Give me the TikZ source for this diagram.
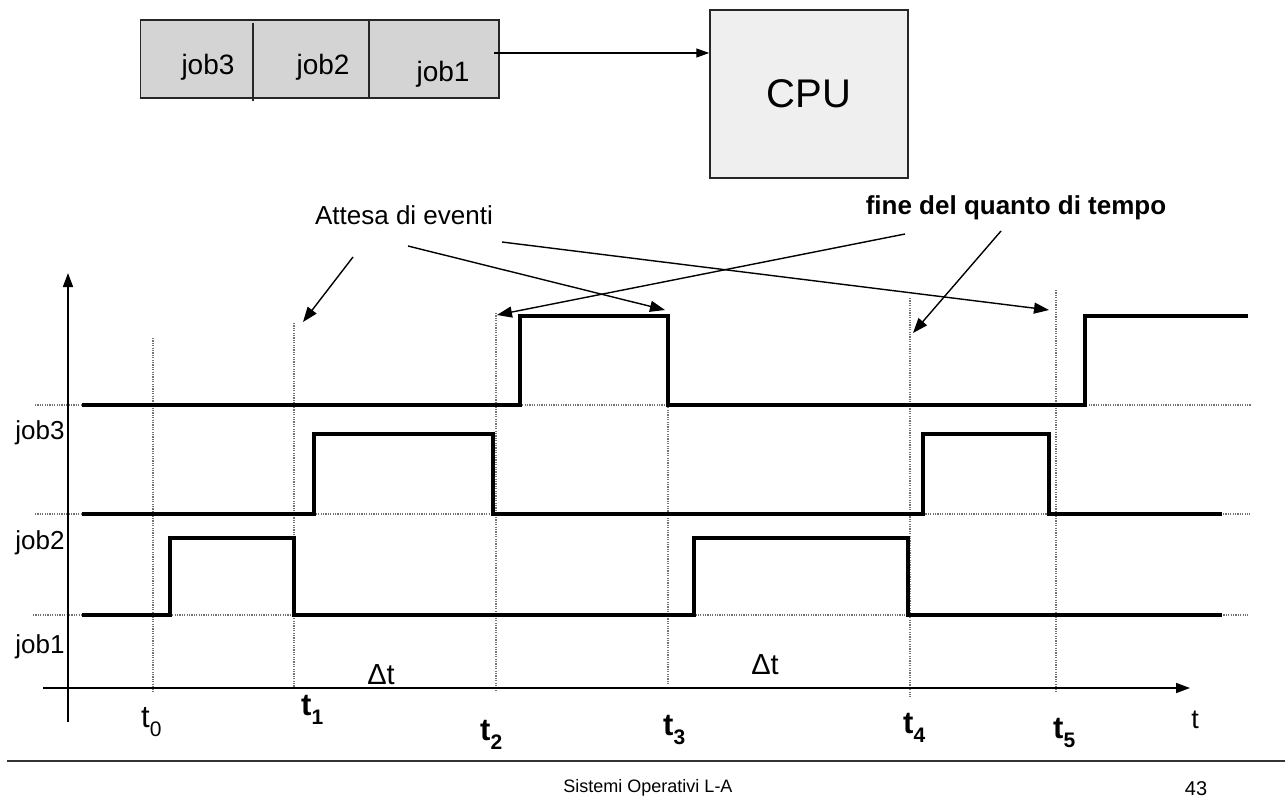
\documentclass[tikz,border=0pt]{standalone}
\usepackage{fontspec}
\setmainfont{Liberation Sans}
\usetikzlibrary{arrows.meta}
\definecolor{qgray}{HTML}{D4D4D4}
\definecolor{cgray}{HTML}{EFEFEF}
\newcommand\fs[1]{\fontsize{#1}{#1}\selectfont}
\newcommand\tsubreg[1]{t\raisebox{-9pt}{\fs{21}#1}}
\newcommand\tsubbold[1]{\bfseries t\raisebox{-9pt}{\fs{21}\bfseries #1}}
\begin{document}
\begin{tikzpicture}[x=1pt,y=-1pt,
  wave/.style={line width=4.5pt, line join=miter, line cap=butt},
  guide/.style={black!55, line width=1.1pt, dash pattern=on 1.2pt off 1.2pt},
  pointer/.style={line width=1.4pt, -{Triangle[length=15pt,width=11pt]}},
  axisline/.style={line width=1.6pt, -{Triangle[length=14pt,width=10pt]}},
  lbl/.style={inner sep=0pt, font=\fs{26}},
  tlbl/.style={inner sep=0pt, anchor=base west, font=\fs{31}},
  boxstyle/.style={draw=black!85, line width=1.5pt, inner sep=0pt},
]
\useasboundingbox (0,0) rectangle (1285,800);

% queue and CPU
\node[boxstyle, fill=qgray, minimum width=358.5pt, minimum height=78pt] (queue) at (319.75,59) {};
\draw[line width=1.3pt, black!85] (253,23) -- (253,101);
\draw[line width=1.3pt, black!85] (369,20) -- (369,98);
\node[inner sep=0pt, font=\fs{28}] (q3) at (208,67) {job3};
\node[inner sep=0pt, font=\fs{28}] (q2) at (323,67) {job2};
\node[inner sep=0pt, font=\fs{28}] (q1) at (443,74) {job1};
\node[boxstyle, fill=cgray, minimum width=198pt, minimum height=168pt] (cpu) at (809,94) {};
\node[inner sep=0pt, font=\fs{40}] (cputxt) at (cpu.center) {CPU};
\coordinate (qa) at (494,53);
\draw[pointer, -{Triangle[length=13pt,width=9pt]}] (qa) -- (qa -| cpu.west);

% dotted guides
\draw[guide] (35,405) -- (1251,405);
\draw[guide] (35,514) -- (1250,514);
\draw[guide] (33,615) -- (1248,615);
\draw[guide] (153,338) -- (153,693);
\draw[guide] (294,323) -- (294,690);
\draw[guide] (496,313) -- (496,690);
\draw[guide] (668,316) -- (668,684);
\draw[guide] (910,298) -- (910,697);
\draw[guide] (1056,290) -- (1056,692);

% axes
\coordinate (yb) at (68,722);
\coordinate (yt) at (68,273);
\coordinate (xl) at (43,688);
\coordinate (xr) at (1190,688);
\draw[axisline] (yb) -- (yt);
\draw[axisline] (xl) -- (xr);

% waveforms
\draw[wave] (82,405) -- (520,405) -- (520,316) -- (668,316) -- (668,405) -- (1085,405) -- (1085,316) -- (1248,316);
\draw[wave] (82,514) -- (314,514) -- (314,434) -- (493,434) -- (493,514) -- (923,514) -- (923,434) -- (1049,434) -- (1049,514) -- (1222,514);
\draw[wave] (82,615) -- (170,615) -- (170,538) -- (294,538) -- (294,615) -- (694,615) -- (694,538) -- (908,538) -- (908,615) -- (1222,615);

% row labels
\node[lbl] (l3) at (40,433) {job3};
\node[lbl] (l2) at (40,543) {job2};
\node[lbl] (l1) at (40,647) {job1};

% annotations
\node[lbl] (att) at (404,215) {Attesa di eventi};
\node[lbl, font=\fs{26}\bfseries] (fine) at (1016,208) {fine del quanto di tempo};
\coordinate (a1s) at (353,257); \coordinate (a1e) at (303,322);
\coordinate (a2s) at (408,246); \coordinate (a2e) at (665,310);
\coordinate (a3s) at (502,242); \coordinate (a3e) at (1049,310);
\coordinate (f1s) at (905,234); \coordinate (f1e) at (497,315);
\coordinate (f2s) at (1001,231); \coordinate (f2e) at (913,333);
\draw[pointer] (a1s) -- (a1e);
\draw[pointer] (a2s) -- (a2e);
\draw[pointer] (a3s) -- (a3e);
\draw[pointer] (f1s) -- (f1e);
\draw[pointer] (f2s) -- (f2e);

% delta t
\node[inner sep=0pt, font=\fs{29}] (d1) at (381,675) {Δt};
\node[inner sep=0pt, font=\fs{29}] (d2) at (765,665) {Δt};

% time labels
\node[tlbl] (t0) at (141,727) {\tsubreg{0}};
\node[tlbl] (t1) at (301,715) {\tsubbold{1}};
\node[tlbl] (t2) at (480,740) {\tsubbold{2}};
\node[tlbl] (t3) at (663,735) {\tsubbold{3}};
\node[tlbl] (t4) at (903,733) {\tsubbold{4}};
\node[tlbl] (t5) at (1053,738) {\tsubbold{5}};
\node[inner sep=0pt, font=\fs{27}] (tax) at (1195,720) {t};

% footer
\draw[line width=2pt, black!80] (7,761) -- (1285,761);
\node[inner sep=0pt, font=\fs{18}] (foot) at (648,788) {Sistemi Operativi L-A};
\node[inner sep=0pt, font=\fs{20}] (page) at (1196,789) {43};
\end{tikzpicture}
\end{document}
